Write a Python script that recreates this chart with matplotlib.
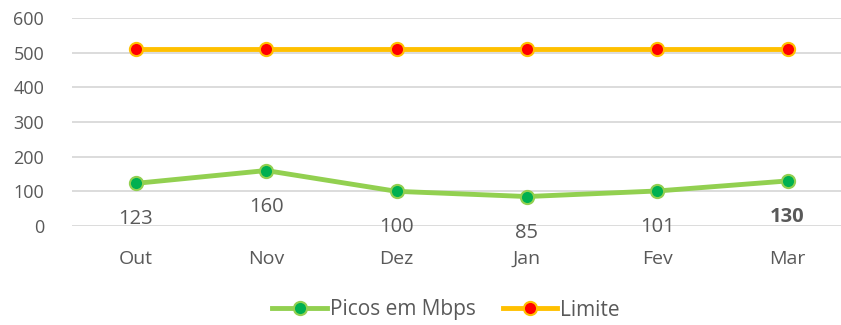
import matplotlib.pyplot as plt

plt.rcParams['font.family'] = ['Open Sans', 'DejaVu Sans']

meses = ['Out', 'Nov', 'Dez', 'Jan', 'Fev', 'Mar']
picos = [123, 160, 100, 85, 101, 130]
limite = [512, 512, 512, 512, 512, 512]
yticks = [0, 100, 200, 300, 400, 500, 600]

cinza = '#595959'

fig = plt.figure(figsize=(8.41, 3.25), dpi=100)
ax = fig.add_axes([72 / 841, 1 - 226 / 325, 769 / 841, 208 / 325])

x = range(len(meses))
ax.plot(x, picos, color='#92D050', lw=3.5, marker='o', ms=9.5,
        mfc='#00B050', mec='#92D050', mew=1.5, label='Picos em Mbps', zorder=3)
ax.plot(x, limite, color='#FFC000', lw=3.5, marker='o', ms=9.5,
        mfc='#FF0000', mec='#FFC000', mew=1.5, label='Limite', zorder=3)

# rótulos de dados abaixo dos pontos
for i, v in enumerate(picos):
    ax.annotate(str(v), (i, v), xytext=(0, -26), textcoords='offset points',
                ha='center', va='center', fontsize=14.5, color=cinza,
                fontweight='bold' if i == len(picos) - 1 else 'normal')

ax.set_xlim(-0.49, 5.41)
ax.set_ylim(0, 600)
ax.set_yticks(yticks)
ax.set_xticks(list(x))
ax.set_xticklabels(meses)
ax.tick_params(axis='both', length=0, labelcolor=cinza)
ax.tick_params(axis='x', pad=17, labelsize=14)
ax.tick_params(axis='y', pad=20, labelsize=13)
ax.grid(axis='y', color='#D9D9D9', lw=1.3)
ax.set_axisbelow(True)
for s in ax.spines.values():
    s.set_visible(False)

fig.legend(loc='center', bbox_to_anchor=(446 / 841, 1 - 310 / 325), ncol=2,
           frameon=False, fontsize=15, labelcolor=cinza, handlelength=2.6,
           columnspacing=1.3, handletextpad=0.15)

fig.savefig('out.png', dpi=100)
